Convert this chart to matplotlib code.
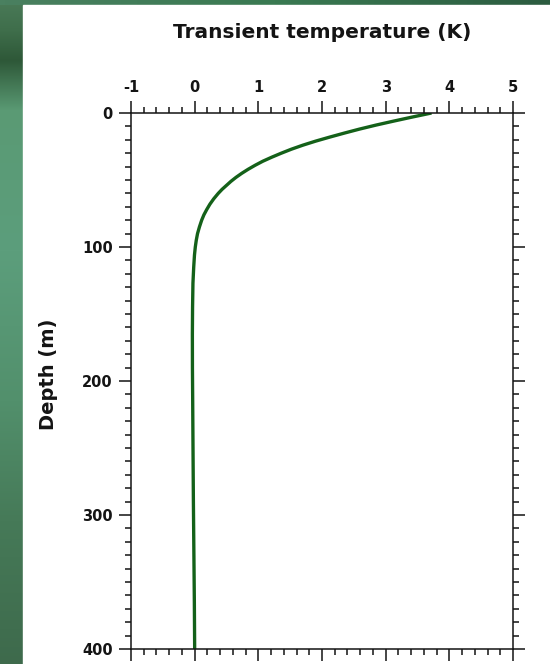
import matplotlib
matplotlib.use("Agg")
import matplotlib.pyplot as plt
import numpy as np
from matplotlib.colors import to_rgb
from matplotlib.patches import Rectangle
from matplotlib.ticker import MultipleLocator

plt.rcParams['font.family'] = ['DejaVu Sans']
plt.rcParams['font.weight'] = 'bold'
plt.rcParams['axes.unicode_minus'] = False

# transient temperature profile
depth_m = [0, 3, 6, 9, 12, 15, 18, 21, 24, 27, 30, 33, 36, 39, 42, 45, 48, 51,
           54, 57, 60, 64, 68, 72, 76, 80, 85, 90, 95, 100, 106, 115, 127, 145,
           165, 190, 215, 250, 290, 330, 365, 400]
temp_k = [3.72, 3.42, 3.13, 2.85, 2.59, 2.35, 2.12, 1.90, 1.70, 1.52, 1.36,
          1.21, 1.07, 0.95, 0.84, 0.74, 0.65, 0.57, 0.50, 0.43, 0.37, 0.30,
          0.24, 0.19, 0.145, 0.11, 0.075, 0.045, 0.025, 0.01, -0.003, -0.015,
          -0.027, -0.033, -0.036, -0.035, -0.031, -0.026, -0.02, -0.012,
          -0.005, 0.0]

x_ticks = [-1, 0, 1, 2, 3, 4, 5]
y_ticks = [0, 100, 200, 300, 400]

LINE_COLOR = '#146119'
INK = '#141414'

W, H = 550, 664
fig = plt.figure(figsize=(W / 100, H / 100), dpi=100)

# green slide background (left strip shading, top to bottom)
bg = fig.add_axes([0, 0, 1, 1], zorder=0)
stop_px = [0, 30, 60, 110, 250, 400, 520, 664]
stop_col = np.array([to_rgb(c) for c in
                     ['#4a7a58', '#3f6e4b', '#2e5838', '#5a9a74', '#5c9e7c', '#52906c', '#467a58', '#3e6a4c']])
rows = np.arange(H)
grad = np.stack([np.interp(rows, stop_px, stop_col[:, k]) for k in range(3)], axis=-1)
img = np.repeat(grad[:, None, :], 2, axis=1)
bg.imshow(img, aspect='auto', extent=[0, 1, 0, 1], origin='upper')
top = np.array([to_rgb('#4a8060'), to_rgb('#3a7a52'), to_rgb('#2c5c40')])
tgrad = np.stack([np.interp(np.linspace(0, 2, 100), [0, 1, 2], top[:, k]) for k in range(3)], axis=-1)
bg.imshow(tgrad[None, :, :], aspect='auto', extent=[0, 1, 1 - 5 / H, 1])
bg.add_patch(Rectangle((23 / W, 0), 1, 1 - 5 / H, color='white'))
bg.set_xlim(0, 1)
bg.set_ylim(0, 1)
bg.axis('off')

left, right = 131 / W, 513 / W
top_y, bot_y = 1 - 113 / H, 1 - 649 / H
ax = fig.add_axes([left, bot_y, right - left, top_y - bot_y], zorder=2)
ax.patch.set_alpha(0)

ax.plot(temp_k, depth_m, color=LINE_COLOR, lw=2.4, solid_capstyle='butt')

ax.set_xlim(-1, 5)
ax.set_ylim(400, 0)
ax.set_xticks(x_ticks)
ax.set_yticks(y_ticks)
ax.xaxis.set_minor_locator(MultipleLocator(0.2))
ax.yaxis.set_minor_locator(MultipleLocator(10))

ax.tick_params(which='both', direction='out', top=True, bottom=True, left=True, right=True,
               labeltop=True, labelbottom=False, labelleft=True, labelright=False,
               color=INK, width=1.1)
ax.tick_params(which='major', length=8.5, labelsize=10.5, pad=4.5)
ax.tick_params(which='minor', length=4.5)
for lab in ax.get_xticklabels() + ax.get_yticklabels():
    lab.set_fontweight('bold')
    lab.set_color(INK)
for sp in ax.spines.values():
    sp.set_linewidth(1.1)
    sp.set_color(INK)

fig.text(322 / W, 1 - 32 / H, 'Transient temperature (K)', ha='center', va='center',
         fontsize=14.5, fontweight='bold', color=INK)
fig.text(48 / W, 1 - 374 / H, 'Depth (m)', ha='center', va='center', rotation=90,
         fontsize=14, fontweight='bold', color=INK)

fig.savefig('out.png', dpi=100)
